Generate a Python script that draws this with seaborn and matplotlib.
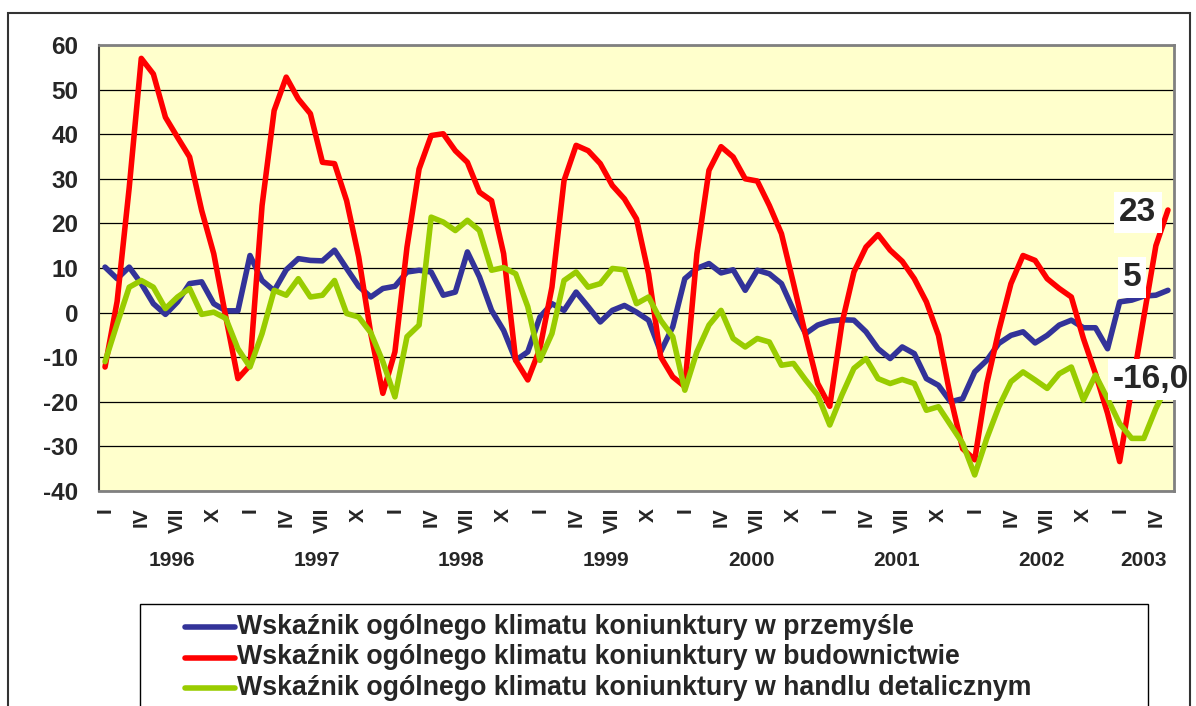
import numpy as np
import pandas as pd
import seaborn as sns
import matplotlib.pyplot as plt
import matplotlib.transforms as mtransforms
from matplotlib.patches import Rectangle
from matplotlib.lines import Line2D

# 1. Data: monthly indicators, I 1996 - V 2003

years = ["1996", "1997", "1998", "1999", "2000", "2001", "2002", "2003"]
month_labels = ["I", "IV", "VII", "X"]

przemysl = [
    10.2, 7.6, 10.2, 6.5, 2.0, -0.4, 2.4, 6.5, 6.9, 2.0, 0.4, 0.4,
    12.8, 7.2, 4.9, 9.6, 12.1, 11.7, 11.6, 14.0, 9.9, 5.9, 3.5, 5.4,
    5.9, 9.1, 9.5, 9.1, 3.9, 4.6, 13.6, 8.0, 0.5, -4.0, -10.7, -8.8,
    -1.0, 2.0, 0.5, 4.6, 1.3, -2.1, 0.5, 1.6, 0.1, -1.7, -8.8, -3.2,
    7.6, 9.9, 11.0, 8.9, 9.6, 5.0, 9.5, 8.7, 6.5, 0.5, -4.7, -2.8,
    -1.9, -1.6, -1.7, -4.3, -8.1, -10.3, -7.7, -9.2, -14.8, -16.3, -20.0, -19.3,
    -13.3, -10.7, -6.9, -5.1, -4.3, -6.8, -5.1, -2.8, -1.7, -3.4, -3.4, -8.1,
    2.4, 2.8, 3.7, 3.9, 5.0,
]
budownictwo = [
    -12.2, 2.5, 28.0, 57.0, 53.5, 43.8, 39.3, 34.9, 22.9, 13.2, -1.0, -14.8,
    -11.8, 24.0, 45.3, 52.8, 47.9, 44.6, 33.7, 33.4, 25.1, 12.5, -4.7, -18.1,
    -8.8, 14.7, 32.2, 39.7, 40.1, 36.3, 33.7, 27.0, 25.1, 13.2, -10.7, -15.1,
    -8.1, 5.7, 29.6, 37.5, 36.3, 33.4, 28.5, 25.5, 21.0, 8.7, -9.9, -14.4,
    -16.6, 13.2, 31.9, 37.2, 34.9, 30.0, 29.5, 24.0, 17.7, 6.5, -5.1, -15.9,
    -21.0, -2.5, 9.1, 14.7, 17.5, 14.0, 11.5, 7.6, 2.4, -5.1, -19.0, -30.5,
    -33.0, -15.9, -4.0, 6.5, 12.8, 11.7, 7.6, 5.4, 3.5, -5.8, -13.7, -22.6,
    -33.4, -17.0, -1.0, 15.0, 23.0,
]
handel = [
    -11.0, -2.5, 5.7, 7.2, 5.7, 0.9, 3.5, 5.4, -0.4, 0.1, -1.3, -8.1,
    -12.2, -4.7, 5.0, 3.9, 7.6, 3.5, 3.9, 7.2, -0.2, -1.0, -4.5, -11.0,
    -18.9, -5.4, -2.8, 21.4, 20.3, 18.4, 20.7, 18.4, 9.5, 10.1, 8.7, 1.3,
    -10.7, -4.7, 7.2, 9.1, 5.7, 6.5, 9.9, 9.6, 2.0, 3.5, -1.7, -5.4,
    -17.4, -8.8, -2.8, 0.5, -5.8, -7.7, -5.8, -6.6, -11.8, -11.4, -15.1, -18.5,
    -25.2, -18.5, -12.5, -10.3, -14.8, -15.9, -15.0, -15.9, -21.9, -21.1, -25.2, -29.3,
    -36.4, -28.2, -21.1, -15.5, -13.3, -15.1, -17.0, -13.7, -12.2, -19.6, -14.0, -19.3,
    -24.9, -28.2, -28.2, -21.5, -16.0,
]

series_names = [
    "Wskaźnik ogólnego klimatu koniunktury w przemyśle",
    "Wskaźnik ogólnego klimatu koniunktury w budownictwie",
    "Wskaźnik ogólnego klimatu koniunktury w handlu detalicznym",
]
colors = ["#333399", "#FF0000", "#99CC00"]
end_labels = ["5", "23", "-16,0"]

months = np.arange(len(przemysl))
df = pd.DataFrame({
    "month": np.tile(months, 3),
    "value": przemysl + budownictwo + handel,
    "series": np.repeat(series_names, len(months)),
})

# 2. Figure

sns.set_style("white")
plt.rcParams["font.family"] = ["Liberation Sans", "DejaVu Sans"]
plt.rcParams["font.weight"] = "bold"
plt.rcParams["axes.unicode_minus"] = False

W, H = 1196, 706
fig = plt.figure(figsize=(W / 100, H / 100), dpi=100)
ax = fig.add_axes([99 / W, 1 - 491 / H, (1174 - 99) / W, (491 - 45) / H])
ax.set_facecolor("#FFFFCC")

sns.lineplot(data=df, x="month", y="value", hue="series", hue_order=series_names,
             palette=colors, linewidth=4, ax=ax, legend=False)

ax.set_xlim(-0.5, len(months) - 0.5)
ax.set_ylim(-40, 60)
ax.set_yticks(range(-40, 61, 10))
ax.yaxis.grid(True, color="black", linewidth=0.9)
ax.set_axisbelow(True)
ax.set_xlabel("")
ax.set_ylabel("")

for side in ["top", "right", "bottom"]:
    ax.spines[side].set_color("#808080")
    ax.spines[side].set_linewidth(2)
ax.spines["left"].set_color("#404040")
ax.spines["left"].set_linewidth(1.5)

ax.tick_params(axis="y", length=6, width=1.2, pad=9, labelsize=17.5)
ax.set_xticks(months[::3])
ax.set_xticklabels([month_labels[k % 4] for k in range(len(months[::3]))],
                   rotation=90, fontsize=15, fontweight="bold")
ax.tick_params(axis="x", length=0, pad=12)

# year labels under each block of months
trans = mtransforms.blended_transform_factory(ax.transData, ax.transAxes)
for k, yr in enumerate(years):
    start = 12 * k
    end = min(12 * k + 11, len(months) - 1)
    ax.text((start + end) / 2, -0.155, yr, transform=trans, ha="center", va="center",
            fontsize=15, fontweight="bold")

# values at the end of each line
offsets = [(-36, 13), (-30, -2), (-17, 4)]
for vals, lab, (dx, dy) in zip([przemysl, budownictwo, handel], end_labels, offsets):
    ax.annotate(lab, xy=(months[-1], vals[-1]), xytext=(dx, dy), textcoords="offset pixels",
                ha="center", va="center", fontsize=24, fontweight="bold",
                bbox=dict(boxstyle="square,pad=0.15", fc="white", ec="none"))

# 3. Legend and frames

for k, (name, col) in enumerate(zip(series_names, colors)):
    y = 1 - (627 + 30.5 * k) / H
    fig.add_artist(Line2D([185 / W, 235 / W], [y, y], color=col, lw=4,
                          solid_capstyle="round"))
    fig.text(237 / W, y, name, ha="left", va="center", fontsize=19.3, fontweight="bold")

fig.add_artist(Rectangle((140 / W, 1 - 720 / H), (1148 - 140) / W, (720 - 604) / H,
                         transform=fig.transFigure, fill=False, ec="black", lw=1))
fig.add_artist(Rectangle((8 / W, 1 - 720 / H), (1190 - 8) / W, (720 - 13) / H,
                         transform=fig.transFigure, fill=False, ec="#333333", lw=1.5))

fig.savefig("out.png", dpi=100)
